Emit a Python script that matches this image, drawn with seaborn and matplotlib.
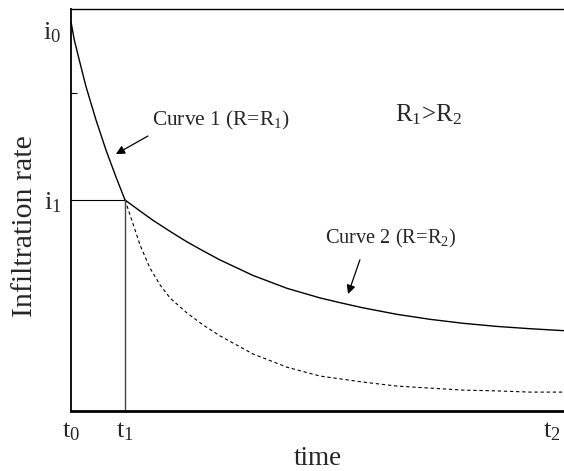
import matplotlib
matplotlib.use("Agg")
import matplotlib.pyplot as plt
import seaborn as sns
import pandas as pd

# ---- data (axis units 0..100) ----
time_curve1 = [0.0, 0.67, 1.68, 3.04, 5.07, 7.10, 9.13, 10.95]
rate_curve1 = [96.8, 92.3, 87.3, 80.7, 72.4, 64.9, 58.2, 52.5]

time_curve2 = [10.95, 14.0, 16.6, 20.1, 23.5, 26.8, 30.2, 36.9, 43.8, 50.5, 54.6, 59.2,
               66.1, 72.8, 79.5, 86.4, 93.1, 100.0]
rate_curve2 = [52.5, 49.75, 47.46, 44.68, 42.09, 39.83, 37.59, 33.73, 30.52, 28.13, 26.94, 25.67,
               24.05, 22.81, 21.82, 21.04, 20.47, 19.98]

time_dashed = [10.95, 11.97, 14.0, 16.0, 18.1, 20.1, 23.5, 26.8, 30.2, 36.9, 43.8, 50.5,
               59.2, 66.1, 72.8, 79.5, 86.4, 93.1, 100.0]
rate_dashed = [52.5, 48.8, 41.3, 35.6, 31.3, 28.1, 24.4, 21.4, 18.7, 14.2, 10.9, 8.7,
               7.2, 6.2, 5.7, 5.2, 5.0, 4.7, 4.7]

t_positions = [0.0, 10.95, 97.6]
t_labels = [r"$\mathrm{t}_0$", r"$\mathrm{t}_1$", r"$\mathrm{t}_2$"]
i_positions = [94.8, 52.5]
i_labels = [r"$\mathrm{i}_0$", r"$\mathrm{i}_1$"]
i1_value = 52.5
t1_value = 10.95

sns.set_theme(style="white")
plt.rcParams["font.family"] = ["Liberation Serif", "DejaVu Serif"]
plt.rcParams["mathtext.fontset"] = "custom"
plt.rcParams["mathtext.rm"] = "Liberation Serif"
plt.rcParams["mathtext.it"] = "Liberation Serif:italic"
plt.rcParams["mathtext.bf"] = "Liberation Serif:bold"

fig = plt.figure(figsize=(5.64, 4.71), dpi=100)
ax = fig.add_axes([71 / 564, 1 - 411 / 471, 1 - 71 / 564, (411 - 9) / 471])

df1 = pd.DataFrame({"time": time_curve1, "rate": rate_curve1})
df2 = pd.DataFrame({"time": time_curve2, "rate": rate_curve2})
df3 = pd.DataFrame({"time": time_dashed, "rate": rate_dashed})

sns.lineplot(data=df1, x="time", y="rate", ax=ax, color="black", lw=1.0, estimator=None, sort=False)
sns.lineplot(data=df2, x="time", y="rate", ax=ax, color="black", lw=1.0, estimator=None, sort=False)
sns.lineplot(data=df3, x="time", y="rate", ax=ax, color="black", lw=0.8, estimator=None, sort=False,
             linestyle=(0, (3, 2.5)))

# guide lines to i1 / t1
ax.plot([0, t1_value], [i1_value, i1_value], color="black", lw=0.8)
ax.plot([t1_value, t1_value], [0, i1_value], color="#444444", lw=1.0)

ax.set_xlim(0, 100)
ax.set_ylim(0, 100)

ax.set_xticks(t_positions)
ax.set_xticklabels(t_labels, fontsize=19)
ax.set_yticks(i_positions)
ax.set_yticklabels(i_labels, fontsize=19)
ax.set_yticks([79.1], minor=True)
ax.tick_params(axis="both", which="major", length=0, pad=7)
ax.tick_params(axis="y", which="minor", left=True, direction="in", length=4, width=0.8, color="black")

ax.set_xlabel("time", fontsize=19.5, labelpad=2)
ax.set_ylabel("Infiltration rate", fontsize=21.5)
ax.yaxis.set_label_coords(-0.066, 0.46)

for side in ["left", "top", "bottom"]:
    ax.spines[side].set_color("black")
ax.spines["right"].set_visible(False)
ax.spines["left"].set_linewidth(1.3)
ax.spines["top"].set_linewidth(1.0)
ax.spines["bottom"].set_linewidth(2.0)

# annotations
arrow_style = dict(arrowstyle="-|>", color="black", lw=0.9, mutation_scale=13, shrinkA=0, shrinkB=0)
ax.annotate("", xy=(9.1, 63.9), xytext=(15.6, 68.4), arrowprops=arrow_style)
ax.text(16.4, 72.2, "Curve 1 (R=R$_1$)", fontsize=15.4, va="center", ha="left")
ax.annotate("", xy=(56.2, 29.1), xytext=(58.6, 37.6), arrowprops=arrow_style)
ax.text(51.5, 42.8, "Curve 2 (R=R$_2$)", fontsize=14.7, va="center", ha="left")
ax.text(65.7, 73.6, "R$_1$>R$_2$", fontsize=18, va="center", ha="left")

fig.savefig("out.png", dpi=100)
